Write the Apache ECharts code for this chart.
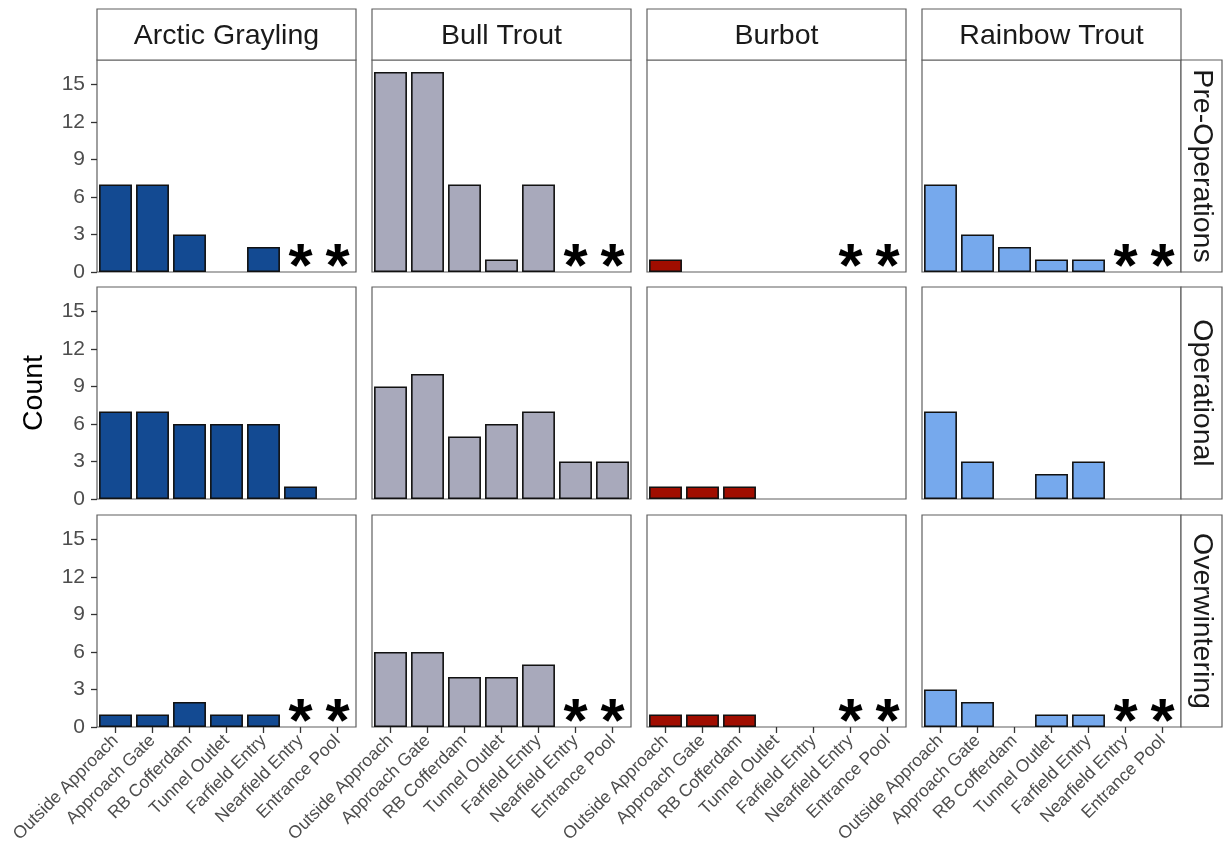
<!DOCTYPE html>
<html>
<head>
<meta charset="utf-8">
<script src="https://cdn.jsdelivr.net/npm/echarts@6/dist/echarts.min.js"></script>
<style>
  html, body { margin: 0; padding: 0; background: #fff; }
  #chart { width: 1226px; height: 860px; }
</style>
</head>
<body>
<div id="chart"></div>
<script>
var sites = ['Outside Approach', 'Approach Gate', 'RB Cofferdam', 'Tunnel Outlet', 'Farfield Entry', 'Nearfield Entry', 'Entrance Pool'];
var species = ['Arctic Grayling', 'Bull Trout', 'Burbot', 'Rainbow Trout'];
var periods = ['Pre-Operations', 'Operational', 'Overwintering'];
var speciesColors = ['#134a92', '#a8a9bb', '#a00d00', '#76a9ed'];

// counts per site, one array per period
var arcticGrayling = [
  [7, 7, 3, 0, 2, 0, 0],
  [7, 7, 6, 6, 6, 1, 0],
  [1, 1, 2, 1, 1, 0, 0]
];
var bullTrout = [
  [16, 16, 7, 1, 7, 0, 0],
  [9, 10, 5, 6, 7, 3, 3],
  [6, 6, 4, 4, 5, 0, 0]
];
var burbot = [
  [1, 0, 0, 0, 0, 0, 0],
  [1, 1, 1, 0, 0, 0, 0],
  [1, 1, 1, 0, 0, 0, 0]
];
var rainbowTrout = [
  [7, 3, 2, 1, 1, 0, 0],
  [7, 3, 0, 2, 3, 0, 0],
  [3, 2, 0, 1, 1, 0, 0]
];
var countsBySpecies = [arcticGrayling, bullTrout, burbot, rainbowTrout];

// sites not sampled in these periods get a '*'
var notSampledPeriods = ['Pre-Operations', 'Overwintering'];
var notSampledSites = ['Nearfield Entry', 'Entrance Pool'];

var yTicks = [0, 3, 6, 9, 12, 15];

var panelLeft = 97, panelStep = 275, panelW = 259;
var rowTops = [60, 287, 515], panelH = 212;
var fontFam = '"Liberation Sans", Arial, sans-serif';

var grids = [], xAxes = [], yAxes = [], series = [], graphics = [];

periods.forEach(function (period, r) {
  species.forEach(function (sp, c) {
    var idx = grids.length;
    grids.push({
      left: panelLeft + c * panelStep,
      top: rowTops[r],
      width: panelW,
      height: panelH,
      show: true,
      borderColor: '#5f5f5f',
      borderWidth: 1.2,
      backgroundColor: '#fff'
    });
    var bottomRow = r === periods.length - 1;
    xAxes.push({
      type: 'category',
      gridIndex: idx,
      data: sites,
      axisLine: { show: false },
      axisTick: { show: bottomRow, alignWithLabel: true, length: 6, lineStyle: { color: '#333', width: 1.3 } },
      axisLabel: {
        show: bottomRow, rotate: 45, interval: 0, margin: 11,
        fontSize: 17.5, color: '#4d4d4d', fontFamily: fontFam
      }
    });
    yAxes.push({
      type: 'value',
      gridIndex: idx,
      min: 0,
      max: 16.95,
      splitLine: { show: false },
      axisLine: { show: false },
      axisTick: { show: c === 0, length: 6, customValues: yTicks, lineStyle: { color: '#333', width: 1.3 } },
      axisLabel: {
        show: c === 0, fontSize: 21, color: '#4d4d4d', fontFamily: fontFam, margin: 12,
        customValues: yTicks
      }
    });
    series.push({
      type: 'bar',
      xAxisIndex: idx,
      yAxisIndex: idx,
      data: countsBySpecies[c][r].map(function (v) { return v > 0 ? v : null; }),
      barCategoryGap: '11%',
      itemStyle: { color: speciesColors[c], borderColor: '#111', borderWidth: 1.6 },
      silent: true
    });
    if (notSampledPeriods.indexOf(period) >= 0) {
      series.push({
        type: 'scatter',
        xAxisIndex: idx,
        yAxisIndex: idx,
        symbol: 'circle',
        symbolSize: 1,
        itemStyle: { color: 'rgba(0,0,0,0)' },
        data: notSampledSites.map(function (s) { return [s, 0]; }),
        label: {
          show: true, formatter: '*', position: 'inside', offset: [0, -3],
          fontSize: 62, fontWeight: 'bold', color: '#000', opacity: 1, fontFamily: fontFam
        },
        silent: true
      });
    }
  });
  // row strip on the right
  graphics.push({
    type: 'rect',
    shape: { x: panelLeft + 3 * panelStep + panelW, y: rowTops[r], width: 41, height: panelH },
    style: { fill: '#fff', stroke: '#5f5f5f', lineWidth: 1.2 }
  });
  graphics.push({
    type: 'text',
    x: panelLeft + 3 * panelStep + panelW + 21,
    y: rowTops[r] + panelH / 2,
    rotation: -Math.PI / 2,
    style: { text: period, fontSize: 28.5, fill: '#1a1a1a', fontFamily: fontFam, align: 'center', verticalAlign: 'middle' }
  });
});

species.forEach(function (sp, c) {
  graphics.push({
    type: 'rect',
    shape: { x: panelLeft + c * panelStep, y: 9, width: panelW, height: 51 },
    style: { fill: '#fff', stroke: '#5f5f5f', lineWidth: 1.2 }
  });
  graphics.push({
    type: 'text',
    x: panelLeft + c * panelStep + panelW / 2,
    y: 36,
    style: { text: sp, fontSize: 28.5, fill: '#1a1a1a', fontFamily: fontFam, align: 'center', verticalAlign: 'middle' }
  });
});

graphics.push({
  type: 'text',
  x: 34,
  y: 393,
  rotation: Math.PI / 2,
  style: { text: 'Count', fontSize: 28.5, fill: '#000', fontFamily: fontFam, align: 'center', verticalAlign: 'middle' }
});

var myChart = echarts.init(document.getElementById('chart'), null, { renderer: 'canvas' });
myChart.setOption({
  animation: false,
  backgroundColor: '#fff',
  grid: grids,
  xAxis: xAxes,
  yAxis: yAxes,
  series: series,
  graphic: graphics
});
</script>
</body>
</html>
